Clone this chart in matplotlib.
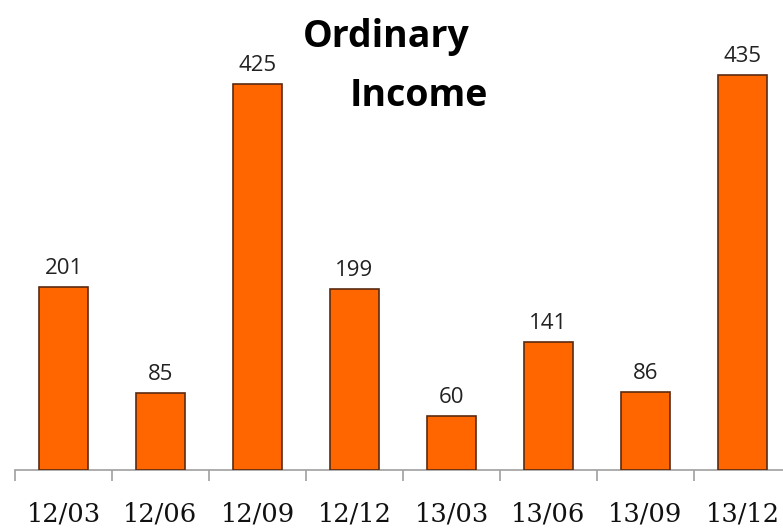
import matplotlib
matplotlib.use("Agg")
import matplotlib.pyplot as plt
import numpy as np

categories = ["12/03", "12/06", "12/09", "12/12", "13/03", "13/06", "13/09", "13/12"]
values = [201, 85, 425, 199, 60, 141, 86, 435]

W, H = 783, 529
fig = plt.figure(figsize=(W / 100, H / 100), dpi=100)
ax_left = 15 / W
ax_width = 8 * 97 / W
ax_bottom = (H - 470) / H
ax_height = 470 / H
ax = fig.add_axes([ax_left, ax_bottom, ax_width, ax_height])

x = np.arange(len(categories))
ax.bar(x, values, width=0.5, color="#FF6600", edgecolor="#5a2a10", linewidth=1.2, zorder=3)

ax.set_xlim(-0.5, len(categories) - 0.5)
ax.set_ylim(0, 470 / 0.908)

for xi, v in zip(x, values):
    ax.text(xi, v + 8 / 0.908, str(v), ha="center", va="bottom",
            fontsize=16, family="Open Sans", color="#222222")

ax.set_xticks(x)
ax.set_xticklabels(categories, family="DejaVu Serif", fontsize=18.5, color="#111111")
ax.tick_params(axis="x", which="major", length=0, pad=23)
ax.set_xticks(np.arange(-0.5, len(categories), 1.0), minor=True)
ax.tick_params(axis="x", which="minor", length=8, width=1.2, color="#a0a0a0")
ax.set_yticks([])
for s in ["top", "right", "left"]:
    ax.spines[s].set_visible(False)
ax.spines["bottom"].set_color("#a0a0a0")
ax.spines["bottom"].set_linewidth(1.2)

fig.text(303 / W, 1 - 47 / H, "Ordinary", ha="left", va="baseline",
         fontsize=27, fontweight="bold", family="Open Sans", color="black")
fig.text(350 / W, 1 - 106 / H, "Income", ha="left", va="baseline",
         fontsize=27, fontweight="bold", family="Open Sans", color="black")

fig.savefig("out.png", dpi=100)
